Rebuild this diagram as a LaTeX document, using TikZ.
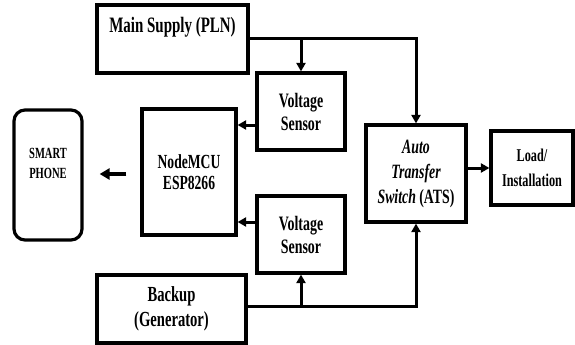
\documentclass[tikz,border=0pt]{standalone}
\usepackage{fontspec}
\setmainfont{Liberation Serif}[FakeStretch=0.68]
\usetikzlibrary{arrows.meta}

\begin{document}
\begin{tikzpicture}[
		x=1pt, y=-1pt,
		block/.style={rectangle, draw, line width=3.2pt, inner sep=0pt, align=center},
		phone/.style={block, rounded corners=11pt},
		arr/.style={line width=3pt, -{Triangle[length=8.5pt, width=9pt]}},
	]
	\useasboundingbox (0,0) rectangle (575,345);

	% supplies
	\node[block, minimum width=151pt, text height=28pt, text depth=40pt,
		font=\fontsize{22}{25}\selectfont\bfseries] (main) at (172.5, 39) {Main Supply (PLN)};
	\node[block, minimum width=149pt, minimum height=68pt,
		font=\fontsize{21.5}{25}\selectfont\bfseries] (backup) at (171.5, 309) {Backup\\(Generator)};

	% sensors
	\node[block, minimum width=88pt, minimum height=77pt,
		font=\fontsize{20.5}{23}\selectfont\bfseries] (vs1) at (301, 111.5) {Voltage\\Sensor};
	\node[block, minimum width=88pt, minimum height=77pt,
		font=\fontsize{20.5}{23}\selectfont\bfseries] (vs2) at (301, 234.5) {Voltage\\Sensor};

	% controller and phone
	\node[block, minimum width=94pt, minimum height=126pt,
		font=\fontsize{20}{21}\selectfont\bfseries] (mcu) at (189, 172) {NodeMCU\\ESP8266};
	\node[phone, minimum width=68pt, text height=68pt, text depth=62pt,
		font=\fontsize{15.5}{20}\selectfont\bfseries] (hp) at (48, 175) {SMART\\PHONE};

	% switch and load
	\node[block, minimum width=100pt, minimum height=97pt,
		font=\fontsize{20.3}{25}\selectfont\bfseries] (ats) at (416, 173.5) {\textit{Auto}\\\textit{Transfer}\\\textit{Switch} (ATS)};
	\node[block, minimum width=82pt, minimum height=74pt,
		font=\fontsize{18}{25}\selectfont\bfseries] (load) at (532, 168) {Load/\\Installation};

	% main supply lines
	\draw[arr] (main.east) -| (ats.north);
	\draw[arr] (main.east -| vs1.north) -- (vs1.north);

	% backup lines
	\draw[arr] ([yshift=3pt]backup.east) -| (ats.south);
	\draw[arr] ([yshift=3pt]backup.east -| vs2.south) -- (vs2.south);

	% sensors to NodeMCU
	\draw[arr] ([yshift=-13.5pt]vs1.west) -- ([yshift=-13.5pt]vs1.west -| mcu.east);
	\draw[arr] ([yshift=12.5pt]vs2.west) -- ([yshift=12.5pt]vs2.west -| mcu.east);

	% NodeMCU to phone
	\draw[line width=3.5pt, -{Triangle[length=10pt, width=11pt]}]
		([xshift=-14pt, yshift=-2pt]mcu.west) -- ([xshift=16pt, yshift=-2pt]mcu.west -| hp.east);

	% ATS to load
	\draw[arr] (ats.east |- load.west) -- (load.west);
\end{tikzpicture}
\end{document}
